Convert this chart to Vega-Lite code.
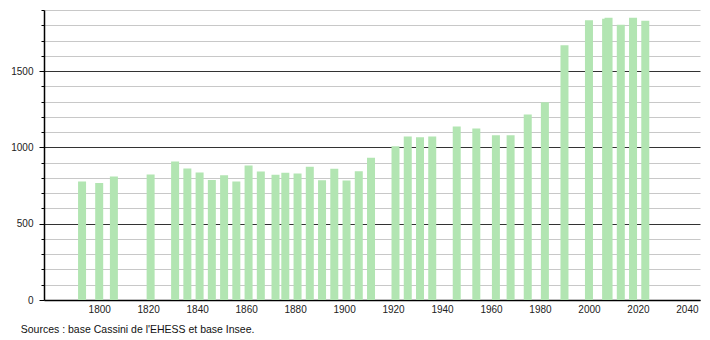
{
  "$schema": "https://vega.github.io/schema/vega-lite/v6.json",
  "width": 656,
  "height": 290,
  "autosize": {"type": "none"},
  "padding": {"left": 44, "top": 10, "right": 10, "bottom": 40},
  "background": "white",
  "title": {
    "text": "Sources : base Cassini de l'EHESS et base Insee.",
    "orient": "bottom",
    "anchor": "start",
    "dx": 10,
    "offset": 11,
    "font": "Liberation Sans",
    "fontSize": 10.5,
    "fontWeight": "normal",
    "color": "#111"
  },
  "data": {
    "values": [
      {"year": 1793, "pop": 776},
      {"year": 1800, "pop": 767},
      {"year": 1806, "pop": 809},
      {"year": 1821, "pop": 822},
      {"year": 1831, "pop": 908},
      {"year": 1836, "pop": 862},
      {"year": 1841, "pop": 836},
      {"year": 1846, "pop": 787},
      {"year": 1851, "pop": 818},
      {"year": 1856, "pop": 776},
      {"year": 1861, "pop": 882},
      {"year": 1866, "pop": 842},
      {"year": 1872, "pop": 820},
      {"year": 1876, "pop": 833},
      {"year": 1881, "pop": 829},
      {"year": 1886, "pop": 873},
      {"year": 1891, "pop": 785},
      {"year": 1896, "pop": 860},
      {"year": 1901, "pop": 783},
      {"year": 1906, "pop": 844},
      {"year": 1911, "pop": 932},
      {"year": 1921, "pop": 1007},
      {"year": 1926, "pop": 1072},
      {"year": 1931, "pop": 1066},
      {"year": 1936, "pop": 1072},
      {"year": 1946, "pop": 1136},
      {"year": 1954, "pop": 1123},
      {"year": 1962, "pop": 1079},
      {"year": 1968, "pop": 1079},
      {"year": 1975, "pop": 1215},
      {"year": 1982, "pop": 1296},
      {"year": 1990, "pop": 1669},
      {"year": 2000, "pop": 1833},
      {"year": 2007, "pop": 1842},
      {"year": 2008, "pop": 1850},
      {"year": 2013, "pop": 1803},
      {"year": 2018, "pop": 1849},
      {"year": 2023, "pop": 1829}
    ]
  },
  "mark": {"type": "bar", "width": 8, "color": "#b2e5b2"},
  "encoding": {
    "x": {
      "field": "year",
      "type": "quantitative",
      "scale": {"domain": [1779.5, 2043.3], "nice": false, "zero": false},
      "axis": {
        "title": null,
        "values": [1800, 1820, 1840, 1860, 1880, 1900, 1920, 1940, 1960, 1980, 2000, 2020, 2040],
        "format": "d",
        "grid": false,
        "ticks": false,
        "labelPadding": 4,
        "labelFont": "Liberation Sans",
        "labelFontSize": 10,
        "labelColor": "#222",
        "labelFlush": false,
        "domainColor": "#000",
        "domainWidth": 1.5
      }
    },
    "y": {
      "field": "pop",
      "type": "quantitative",
      "scale": {"domain": [0, 1900], "nice": false},
      "axis": {
        "title": null,
        "values": [0, 100, 200, 300, 400, 500, 600, 700, 800, 900, 1000, 1100, 1200, 1300, 1400, 1500, 1600, 1700, 1800, 1900],
        "labelExpr": "datum.value % 500 === 0 ? datum.value : ''",
        "grid": true,
        "gridColor": {"condition": {"test": "datum.value % 500 === 0", "value": "#333"}, "value": "#c8c8c8"},
        "gridWidth": 1,
        "tickColor": "#000",
        "tickSize": {"condition": {"test": "datum.value % 500 === 0", "value": 5}, "value": 3},
        "labelPadding": 6,
        "labelFont": "Liberation Sans",
        "labelFontSize": 10,
        "labelColor": "#222",
        "domainColor": "#000",
        "domainWidth": 1.5
      }
    }
  },
  "config": {"view": {"stroke": null}}
}
